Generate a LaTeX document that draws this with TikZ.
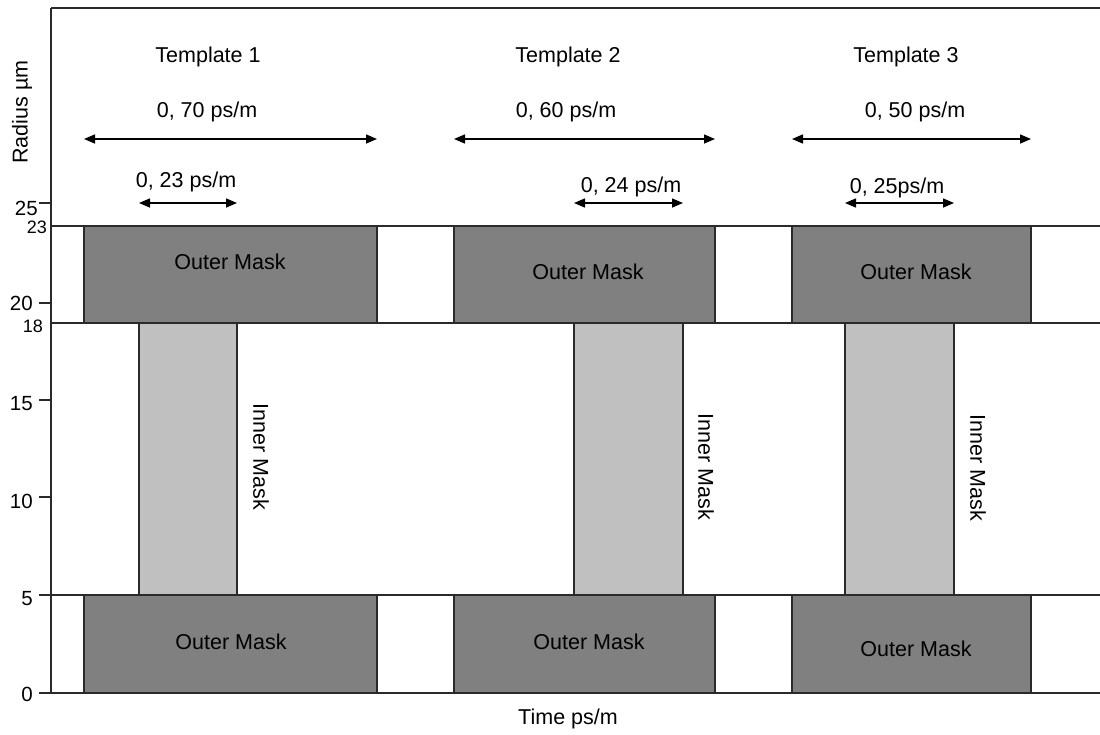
\documentclass[tikz,border=0pt]{standalone}
\usepackage{fontspec}
\setmainfont{Liberation Sans}
\usetikzlibrary{arrows.meta}
\definecolor{linec}{HTML}{2A2A2A}
\definecolor{outerc}{HTML}{808080}
\definecolor{innerc}{HTML}{C0C0C0}
\begin{document}
\begin{tikzpicture}[x=1pt,y=-1pt,
  axisline/.style={draw=linec,line width=1.5pt},
  outerbox/.style={draw=linec,line width=1.6pt,fill=outerc,inner sep=0pt,outer sep=0pt,anchor=north west},
  innerbox/.style={draw=linec,line width=1.6pt,fill=innerc,inner sep=0pt,outer sep=0pt,anchor=north west},
  lbl/.style={font=\fontsize{21.5}{25}\selectfont,inner sep=0pt,anchor=base},
  ticklbl/.style={font=\fontsize{20.5}{24}\selectfont,inner sep=0pt,anchor=base east},
  smalltick/.style={font=\fontsize{18}{21}\selectfont,inner sep=0pt,anchor=base east},
  dimarrow/.style={draw=black,line width=1.5pt,{Triangle[length=11pt,width=9pt]}-{Triangle[length=11pt,width=9pt]}},
  vlbl/.style={font=\fontsize{21.5}{25}\selectfont,inner sep=0pt,anchor=center}]
\useasboundingbox (0,0) rectangle (1100,734);
\fill[white] (0,0) rectangle (1100,734);

% frame and grid lines
\coordinate (tl) at (51,8);
\coordinate (tr) at (1100,8);
\coordinate (o) at (51,693);
\coordinate (or) at (1100,693);
\draw[axisline] (tl) -- (tr);
\draw[axisline] (tl) -- (o);
\draw[axisline] (o) -- (or);
\coordinate (l23) at (51,226); \coordinate (r23) at (1100,226);
\coordinate (l18) at (51,323); \coordinate (r18) at (1100,323);
\coordinate (l5) at (51,595);  \coordinate (r5) at (1100,595);
\draw[axisline] (l23) -- (r23);
\draw[axisline] (l18) -- (r18);
\draw[axisline] (l5) -- (r5);

% ticks
\foreach \yy in {203,303,400,497,595,693}{
  \draw[axisline] (39,\yy) -- (51,\yy);
}
\node[ticklbl] (t25) at (38,215) {25};
\node[smalltick] (t23) at (47,233) {23};
\node[ticklbl] (t20) at (33,310) {20};
\node[smalltick] (t18) at (43,332) {18};
\node[ticklbl] (t15) at (33,410) {15};
\node[ticklbl] (t10) at (33,508) {10};
\node[ticklbl] (t5) at (33,605) {5};
\node[ticklbl] (t0) at (33,701) {0};

\node[vlbl,rotate=90] (ylab) at (22,112) {Radius µm};
\node[lbl] (xlab) at (568,724) {Time ps/m};

% Template 1
\node[outerbox,minimum width=293pt,minimum height=97pt] (o1t) at (84,226) {};
\node[outerbox,minimum width=293pt,minimum height=98pt] (o1b) at (84,595) {};
\node[innerbox,minimum width=98pt,minimum height=272pt] (i1) at (139,323) {};
% Template 2
\node[outerbox,minimum width=261pt,minimum height=97pt] (o2t) at (454,226) {};
\node[outerbox,minimum width=261pt,minimum height=98pt] (o2b) at (454,595) {};
\node[innerbox,minimum width=109pt,minimum height=272pt] (i2) at (574,323) {};
% Template 3
\node[outerbox,minimum width=239pt,minimum height=97pt] (o3t) at (792,226) {};
\node[outerbox,minimum width=239pt,minimum height=98pt] (o3b) at (792,595) {};
\node[innerbox,minimum width=109pt,minimum height=272pt] (i3) at (845,323) {};

% labels in boxes
\node[lbl] (o1tl) at (230,269) {Outer Mask};
\node[lbl] (o1bl) at (231,649) {Outer Mask};
\node[lbl] (o2tl) at (588,279) {Outer Mask};
\node[lbl] (o2bl) at (589,649) {Outer Mask};
\node[lbl] (o3tl) at (916,279) {Outer Mask};
\node[lbl] (o3bl) at (916,656) {Outer Mask};
\node[vlbl,rotate=-90] (i1l) at (261,457) {Inner Mask};
\node[vlbl,rotate=-90] (i2l) at (706,467) {Inner Mask};
\node[vlbl,rotate=-90] (i3l) at (978,468) {Inner Mask};

% template titles
\node[lbl] (tp1) at (208,62) {Template 1};
\node[lbl] (tp2) at (568,62) {Template 2};
\node[lbl] (tp3) at (906,62) {Template 3};

% long arrows
\draw[dimarrow] ([yshift=87pt]o1t.north west) -- ([yshift=87pt]o1t.north east);
\draw[dimarrow] ([yshift=87pt]o2t.north west) -- ([yshift=87pt]o2t.north east);
\draw[dimarrow] ([yshift=87pt]o3t.north west) -- ([yshift=87pt]o3t.north east);
\node[lbl] (a1) at (207,117) {0, 70 ps/m};
\node[lbl] (a2) at (566,117) {0, 60 ps/m};
\node[lbl] (a3) at (915,117) {0, 50 ps/m};

% short arrows
\draw[dimarrow] ([yshift=120pt]i1.north west) -- ([yshift=120pt]i1.north east);
\draw[dimarrow] ([yshift=120pt]i2.north west) -- ([yshift=120pt]i2.north east);
\draw[dimarrow] ([yshift=120pt]i3.north west) -- ([yshift=120pt]i3.north east);
\node[lbl] (b1) at (186,187) {0, 23 ps/m};
\node[lbl] (b2) at (631,192) {0, 24 ps/m};
\node[lbl] (b3) at (897,193) {0, 25ps/m};
\end{tikzpicture}
\end{document}
